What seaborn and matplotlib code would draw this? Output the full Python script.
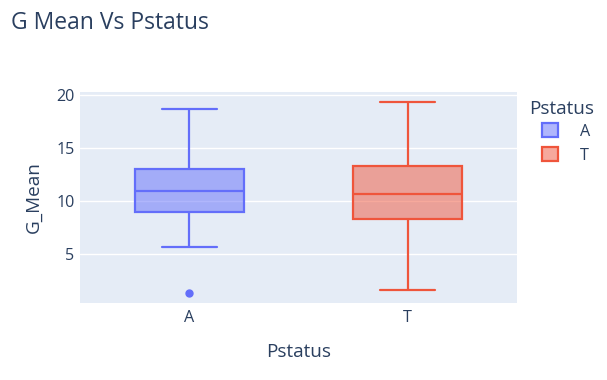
import matplotlib
matplotlib.use("Agg")
import matplotlib.pyplot as plt
import seaborn as sns
import pandas as pd
from matplotlib.patches import Patch

# ---- data ----
categories = ["A", "T"]
a_values = [1.29, 5.63, 8.93, 10.0, 10.97, 12.0, 13.05, 15.5, 18.65]
t_values = [1.60, 5.0, 8.30, 9.5, 10.63, 12.0, 13.33, 16.0, 19.31]
line_colors = ["#636EFA", "#EF553B"]
y_ticks = [5, 10, 15, 20]

df = pd.DataFrame({
    "Pstatus": ["A"] * len(a_values) + ["T"] * len(t_values),
    "G_Mean": a_values + t_values,
})

sns.set_style("white")
plt.rcParams["font.family"] = ["Open Sans", "DejaVu Sans"]
TXT = "#2a3f5f"

fig = plt.figure(figsize=(6.07, 3.80), dpi=100)
ax = fig.add_axes([80 / 607, 77 / 380, 437 / 607, 211 / 380])
ax.set_facecolor("#E5ECF6")
ax.grid(axis="y", color="white", linewidth=1.0, zorder=0)
ax.set_axisbelow(True)

lw = 1.6
for cat, col in zip(categories, line_colors):
    rgb = matplotlib.colors.to_rgb(col)
    sns.boxplot(
        data=df[df["Pstatus"] == cat], x="Pstatus", y="G_Mean", order=categories,
        width=0.5, saturation=1, linecolor=col, linewidth=lw, ax=ax,
        boxprops=dict(facecolor=(*rgb, 0.5), edgecolor=col, linewidth=lw, zorder=3),
        medianprops=dict(color=col, linewidth=lw),
        whiskerprops=dict(color=col, linewidth=lw),
        capprops=dict(color=col, linewidth=lw),
        flierprops=dict(marker="o", markerfacecolor=col, markeredgecolor=col,
                        markersize=5),
    )

ax.set_xlim(-0.5, 1.5)
ax.set_ylim(0.38, 20.3)
ax.set_yticks(y_ticks)
for s in ax.spines.values():
    s.set_visible(False)
ax.tick_params(axis="both", length=0, labelsize=11.6, labelcolor=TXT)
ax.tick_params(axis="y", pad=4)
ax.tick_params(axis="x", pad=5)
ax.set_xlabel("Pstatus", fontsize=13.6, color=TXT, labelpad=12)
ax.set_ylabel("G_Mean", fontsize=13.6, color=TXT, labelpad=10)

fig.text(11 / 607, 1 - 29 / 380, "G Mean Vs Pstatus", fontsize=16.5, color=TXT,
         ha="left", va="baseline")

# legend title and entries
fig.text(529 / 607, 1 - 114 / 380, "Pstatus", fontsize=13.6, color=TXT,
         ha="left", va="baseline")
handles = [Patch(facecolor=(*matplotlib.colors.to_rgb(c), 0.5), edgecolor=c,
                 linewidth=lw) for c in line_colors]
leg = fig.legend(handles, categories, loc="upper left",
                 bbox_to_anchor=(542 / 607, 1 - 123 / 380), frameon=False,
                 fontsize=11.6, handlelength=1.0,
                 handleheight=1.0, handletextpad=1.35, labelspacing=0.45,
                 borderaxespad=0, borderpad=0)
for t in leg.get_texts():
    t.set_color(TXT)

fig.savefig("out.png", dpi=100)
